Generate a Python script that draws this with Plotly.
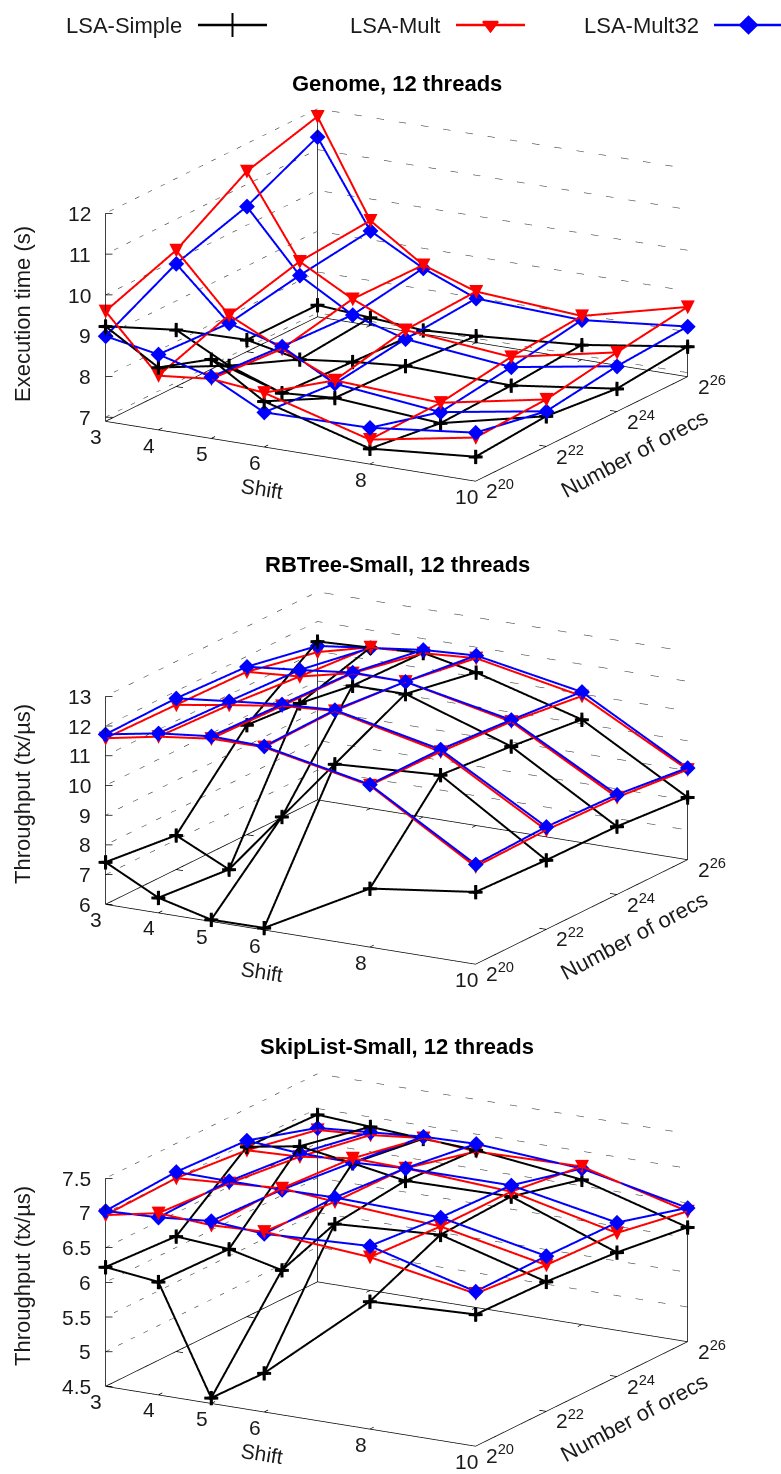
import math
import plotly.graph_objects as go

W, H = 781, 1474
shift_vals = [3, 4, 5, 6, 8, 10]
orec_exps = [20, 22, 24, 26]
series_names = ["LSA-Simple", "LSA-Mult", "LSA-Mult32"]

genome_simple = [[9.23, 8.43, 8.84, 8.02, 7.28, 7.50],
                 [8.29, 7.62, 7.16, 7.25, 7.05, 7.64],
                 [7.19, 6.92, 7.07, 7.18, 7.12, 7.46],
                 [7.19, 7.09, 6.99, 7.06, 7.26, 7.64]]
genome_mult = [[9.60, 8.23, 8.36, 8.23, 7.50, 7.97],
               [10.24, 8.86, 8.24, 7.68, 7.55, 8.05],
               [11.32, 9.32, 8.61, 8.06, 7.82, 8.35],
               [11.81, 9.47, 8.59, 8.15, 7.97, 8.61]]
genome_mult32 = [[8.99, 8.75, 8.41, 7.75, 7.79, 8.09],
                 [9.91, 8.66, 8.30, 7.60, 7.32, 7.76],
                 [10.46, 8.98, 8.22, 7.84, 7.57, 8.01],
                 [11.31, 9.22, 8.51, 7.98, 7.87, 8.13]]

rbtree_simple = [[7.42, 6.51, 6.06, 6.07, 7.97, 8.43],
                 [7.15, 6.29, 8.35, 10.41, 10.62, 8.33],
                 [9.69, 10.71, 11.59, 11.60, 10.41, 8.29],
                 [11.33, 11.41, 11.52, 11.15, 10.14, 8.10]]
rbtree_mult = [[11.59, 11.93, 12.15, 12.15, 11.44, 9.28],
               [11.54, 11.82, 12.08, 12.20, 11.40, 9.34],
               [11.48, 11.61, 12.01, 12.01, 11.24, 9.27],
               [10.97, 11.42, 11.51, 11.63, 10.93, 9.03]]
rbtree_mult32 = [[11.72, 12.04, 12.23, 12.18, 11.47, 9.36],
                 [11.76, 11.95, 12.13, 12.23, 11.48, 9.45],
                 [11.65, 11.83, 12.03, 12.01, 11.30, 9.36],
                 [11.18, 11.40, 11.62, 11.72, 11.07, 9.09]]

skiplist_simple = [[6.22, 6.13, 4.58, 5.06, 6.34, 6.40],
                   [6.16, 6.10, 5.92, 6.71, 6.80, 6.37],
                   [6.95, 7.08, 6.96, 6.83, 6.85, 6.29],
                   [6.91, 6.86, 6.81, 6.77, 6.59, 6.15]]
skiplist_mult = [[6.97, 7.12, 7.07, 7.10, 6.98, 6.70],
                 [7.00, 7.05, 7.10, 7.03, 6.92, 6.61],
                 [6.90, 6.93, 7.03, 7.01, 6.92, 6.57],
                 [6.69, 6.74, 6.82, 6.75, 6.78, 6.38]]
skiplist_mult32 = [[7.03, 7.06, 7.13, 7.07, 7.14, 6.73],
                   [7.09, 7.08, 7.08, 7.09, 7.05, 6.74],
                   [7.04, 6.98, 6.97, 7.01, 7.01, 6.72],
                   [6.72, 6.78, 6.84, 6.86, 6.75, 6.43]]

panels = [
    dict(title="Genome, 12 threads", ytitle="Execution time (s)", zr=(6.9, 12.0),
         zt=[7, 8, 9, 10, 11, 12], ztl=["7", "8", "9", "10", "11", "12"],
         data=[genome_simple, genome_mult, genome_mult32], cy=295.2, ty=84, yty=314),
    dict(title="RBTree-Small, 12 threads", ytitle="Throughput (tx/\u00b5s)", zr=(6.0, 13.0),
         zt=[6, 7, 8, 9, 10, 11, 12, 13], ztl=["6", "7", "8", "9", "10", "11", "12", "13"],
         data=[rbtree_simple, rbtree_mult, rbtree_mult32], cy=778.0, ty=564, yty=794),
    dict(title="SkipList-Small, 12 threads", ytitle="Throughput (tx/\u00b5s)", zr=(4.5, 7.5),
         zt=[4.5, 5, 5.5, 6, 6.5, 7, 7.5], ztl=["4.5", "5", "5.5", "6", "6.5", "7", "7.5"],
         data=[skiplist_simple, skiplist_mult, skiplist_mult32], cy=1260.0, ty=1046, yty=1276),
]

COL = ["#000000", "#ff0000", "#0000ff"]
FONT = "Liberation Sans"
TICK = dict(family=FONT, size=21, color="#1a1a1a")
R = math.radians(29.8)
E = math.radians(16.4)
EYE_K = 3.0
SCENE_H = 420
CX = 396.5
PX_A = 426.5
PAD = 0.02
ASPECT = 2.031 * (1 + 2 * PAD)

fig = go.Figure()
annos = []


def add3(scene, xs, ys, zs, **kw):
    fig.add_trace(go.Scatter3d(x=xs, y=ys, z=zs, scene=scene, showlegend=False,
                               hoverinfo="skip", **kw))


def padded(lo, hi):
    d = (hi - lo) * PAD
    return [lo - d, hi + d]


for k, p in enumerate(panels):
    sc = "scene" if k == 0 else f"scene{k + 1}"
    z0, z1 = p["zr"]
    xs0, xs1 = shift_vals[0], shift_vals[-1]
    y0, y1 = orec_exps[0], orec_exps[-1]
    ux = (xs1 - xs0) / PX_A
    uy = (y1 - y0) / PX_A
    frame = dict(mode="lines", line=dict(color="#000000", width=1.5))

    # base rectangle
    add3(sc, [xs0, xs1, xs1, xs0, xs0], [y0, y0, y1, y1, y0], [z0] * 5, **frame)
    # verticals
    add3(sc, [xs0, xs0], [y0, y0], [z0, z1], **frame)
    corner = max(s[-1][0] for s in p["data"])
    add3(sc, [xs0, xs0], [y1, y1], [z0, corner], **frame)
    add3(sc, [xs1, xs1], [y1, y1], [z0, p["data"][0][-1][-1]], **frame)

    # dotted back walls
    gx, gy, gz = [], [], []
    for z in p["zt"]:
        if z == z0:
            continue
        gx += [xs0, xs0, xs1, None]
        gy += [y0, y1, y1, None]
        gz += [z, z, z, None]
    add3(sc, gx, gy, gz, mode="lines", line=dict(color="#444444", width=1.2, dash="dot"))

    # ticks
    tx, ty, tz = [], [], []
    tl = 8
    for s in shift_vals:
        tx += [s, s, None, s, s, None]
        ty += [y0, y0 + tl * uy, None, y1, y1 - tl * uy, None]
        tz += [z0, z0, None, z0, z0, None]
    for o in orec_exps:
        tx += [xs1, xs1 - tl * ux, None, xs0, xs0 + tl * ux, None]
        ty += [o, o, None, o, o, None]
        tz += [z0, z0, None, z0, z0, None]
    for z in p["zt"]:
        tx += [xs0, xs0 + 7 * ux * math.cos(R), None]
        ty += [y0, y0 + 7 * uy * math.sin(R), None]
        tz += [z, z, None]
    add3(sc, tx, ty, tz, **frame)

    # series wireframes
    for si, vals in enumerate(p["data"]):
        lx, ly, lz = [], [], []
        for j, o in enumerate(orec_exps):
            lx += shift_vals + [None]
            ly += [o] * len(shift_vals) + [None]
            lz += vals[j] + [None]
        for i, s in enumerate(shift_vals):
            lx += [s] * len(orec_exps) + [None]
            ly += orec_exps + [None]
            lz += [vals[j][i] for j in range(len(orec_exps))] + [None]
        add3(sc, lx, ly, lz, mode="lines", line=dict(color=COL[si], width=4))
        mx = [s for _ in orec_exps for s in shift_vals]
        my = [o for o in orec_exps for _ in shift_vals]
        mz = [v for row in vals for v in row]
        if si == 0:
            add3(sc, mx, my, mz, mode="text", text=["<b>+</b>"] * len(mx),
                 textposition="middle center",
                 textfont=dict(color=COL[si], size=28, family=FONT))
        elif si == 1:
            add3(sc, mx, my, mz, mode="text", text=["\u25bc"] * len(mx),
                 textposition="middle center",
                 textfont=dict(color=COL[si], size=24, family=FONT))
        else:
            add3(sc, mx, my, mz, mode="markers",
                 marker=dict(color=COL[si], size=5.2, symbol="diamond"))

    # scene annotations
    sa = []
    for s in shift_vals:
        sa.append(dict(x=s, y=y0, z=z0, text=str(s), showarrow=False, font=TICK,
                       xanchor="center", yanchor="middle", xshift=-9, yshift=-15))
    for o in orec_exps:
        sa.append(dict(x=xs1, y=o, z=z0, text=f"2<sup>{o}</sup>", showarrow=False, font=TICK,
                       xanchor="center", yanchor="middle", xshift=24, yshift=-8))
    for z, lab in zip(p["zt"], p["ztl"]):
        sa.append(dict(x=xs0, y=y0, z=z, text=lab, showarrow=False, font=TICK,
                       xanchor="right", yanchor="middle", xshift=-12, yshift=0))
    sa.append(dict(x=6.6, y=y0, z=z0, text="Shift", showarrow=False,
                   font=dict(family=FONT, size=21, color="#1a1a1a"), textangle=9,
                   xanchor="center", yanchor="middle", xshift=-34, yshift=-36))
    sa.append(dict(x=xs1, y=23, z=z0, text="Number of orecs", showarrow=False,
                   font=dict(family=FONT, size=22, color="#1a1a1a"), textangle=-28,
                   xanchor="center", yanchor="middle", xshift=53, yshift=-24))

    hd = SCENE_H / 2
    fig.layout[sc] = dict(
        domain=dict(x=[(2 * CX - W) / W, 1],
                    y=[1 - (p["cy"] + hd) / H, 1 - (p["cy"] - hd) / H]),
        xaxis=dict(visible=False, range=padded(xs0, xs1)),
        yaxis=dict(visible=False, range=padded(y0, y1)),
        zaxis=dict(visible=False, range=padded(z0, z1)),
        aspectmode="manual",
        aspectratio=dict(x=ASPECT, y=ASPECT, z=0.5085 * ASPECT),
        camera=dict(
            eye=dict(x=EYE_K * math.sin(R) * math.cos(E),
                     y=-EYE_K * math.cos(R) * math.cos(E),
                     z=EYE_K * math.sin(E)),
            center=dict(x=0, y=0, z=0), up=dict(x=0, y=0, z=1),
            projection=dict(type="orthographic")),
        annotations=sa,
        bgcolor="rgba(0,0,0,0)",
        dragmode=False,
    )

    annos.append(dict(x=397 / W, y=1 - p["ty"] / H, xref="paper", yref="paper", text=f"<b>{p['title']}</b>",
                      showarrow=False, font=dict(family=FONT, size=22, color="#000000"),
                      xanchor="center", yanchor="middle"))
    annos.append(dict(x=22 / W, y=1 - p["yty"] / H, xref="paper", yref="paper", text=p["ytitle"],
                      textangle=-90, showarrow=False, font=dict(family=FONT, size=22, color="#1a1a1a"),
                      xanchor="center", yanchor="middle"))

# legend row, on a hidden pixel-sized axis pair
legend_ends = [184, 442, 701]
legend_x = [(198, 267), (456, 525), (714, 783)]
legend_sym = ["cross-thin", "triangle-down", "diamond"]
legend_size = [17, 13, 13]
for i in range(3):
    a, b = legend_x[i]
    fig.add_trace(go.Scatter(x=[a, (a + b) / 2, b], y=[25, 25, 25], mode="lines", showlegend=False,
                             hoverinfo="skip", line=dict(color=COL[i], width=2.4),
                             xaxis="x", yaxis="y"))
    fig.add_trace(go.Scatter(x=[(a + b) / 2], y=[25], mode="markers", showlegend=False, hoverinfo="skip",
                             marker=dict(symbol=legend_sym[i], size=legend_size[i], color=COL[i],
                                         line=dict(color=COL[i], width=2)),
                             xaxis="x", yaxis="y"))
    annos.append(dict(x=legend_ends[i], y=25, xref="x", yref="y", text=series_names[i], showarrow=False,
                      font=dict(family=FONT, size=22, color="#1a1a1a"), xanchor="right", yanchor="middle"))

fig.update_layout(
    width=W, height=H, margin=dict(l=0, r=0, t=0, b=0), paper_bgcolor="white", plot_bgcolor="rgba(0,0,0,0)",
    xaxis=dict(visible=False, range=[0, W], domain=[0, 1], fixedrange=True),
    yaxis=dict(visible=False, range=[H, 0], domain=[0, 1], fixedrange=True),
    annotations=annos, showlegend=False,
)
fig.write_html("out.html", config=dict(displayModeBar=False),
               post_script="document.body.style.margin='0';")
